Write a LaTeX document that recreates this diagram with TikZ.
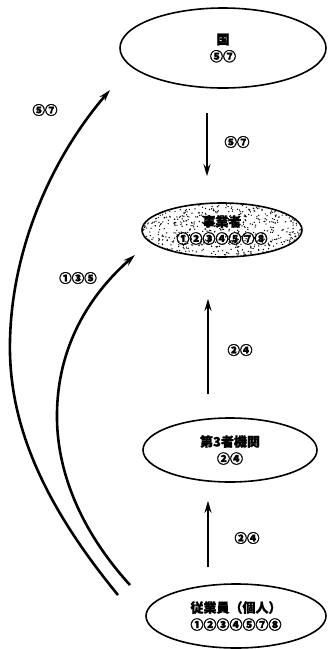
\documentclass[tikz,border=0pt]{standalone}
\usepackage{fontspec}
\setmainfont{Noto Sans CJK JP}
\newfontfamily\heavyjp{Noto Sans CJK JP}[FakeBold=1.5]
\usepackage{tikz}
\usetikzlibrary{arrows.meta,shapes.geometric,calc}

\begin{document}
\begin{tikzpicture}[x=1pt,y=-1pt,>={Stealth[length=12pt,width=7pt]},
  ent/.style={draw,ellipse,line width=1.6pt,inner sep=0pt,align=center,
    font=\heavyjp\bfseries\fontsize{13}{17}\selectfont},
  arr/.style={->,line width=2.6pt},
  lbl/.style={font=\heavyjp\bfseries\fontsize{12.5}{14}\selectfont}]
  \useasboundingbox (0,0) rectangle (329,649);
  % bodies
  \node[ent,minimum width=206pt,minimum height=80pt] (kuni) at (223,48) {国\\⑤⑦};
  \node[ent,minimum width=160pt,minimum height=54pt,
    path picture={\pgfmathsetseed{11}
      \foreach \i in {1,...,750}
        \fill (path picture bounding box.center) ++(rand*82pt,rand*28pt) circle (0.7pt);}]
    (jigyo) at (222,230) {事業者\\①②③④⑤⑦⑧};
  \node[ent,minimum width=174pt,minimum height=64pt] (daisan) at (230,450) {第3者機関\\②④};
  \node[ent,minimum width=180pt,minimum height=64pt] (jugyo) at (236,616) {従業員（個人）\\①②③④⑤⑦⑧};
  % straight flows
  \draw[arr,shorten <=24pt,shorten >=26pt] ([xshift=-16pt]kuni.south) -- ([xshift=-15pt]jigyo.north);
  \draw[arr,shorten <=23pt,shorten >=41pt] ([xshift=-22pt]daisan.north) -- ([xshift=-14pt]jigyo.south);
  \draw[arr,shorten <=16pt,shorten >=18pt] ([xshift=-28pt]jugyo.north) -- ([xshift=-22pt]daisan.south);
  % curved flows from jugyo
  \coordinate (outS) at (118,595);
  \coordinate (outE) at (110,90);
  \coordinate (inS) at (130,585);
  \coordinate (inE) at (135,255);
  \draw[arr] (outS) .. controls (40,500) and (8,420) .. (10,340)
    .. controls (12,250) and (50,160) .. (outE);
  \draw[arr] (inS) .. controls (80,530) and (56,470) .. (57,413)
    .. controls (58,340) and (95,290) .. (inE);
  % labels
  \node[lbl] (lkuni) at (45,110) {⑤⑦};
  \node[lbl] (ljigyo) at (78,278) {①③⑤};
  \node[lbl] (lmid1) at (237,142) {⑤⑦};
  \node[lbl] (lmid2) at (240,350) {②④};
  \node[lbl] (lmid3) at (247,538) {②④};
\end{tikzpicture}
\end{document}
